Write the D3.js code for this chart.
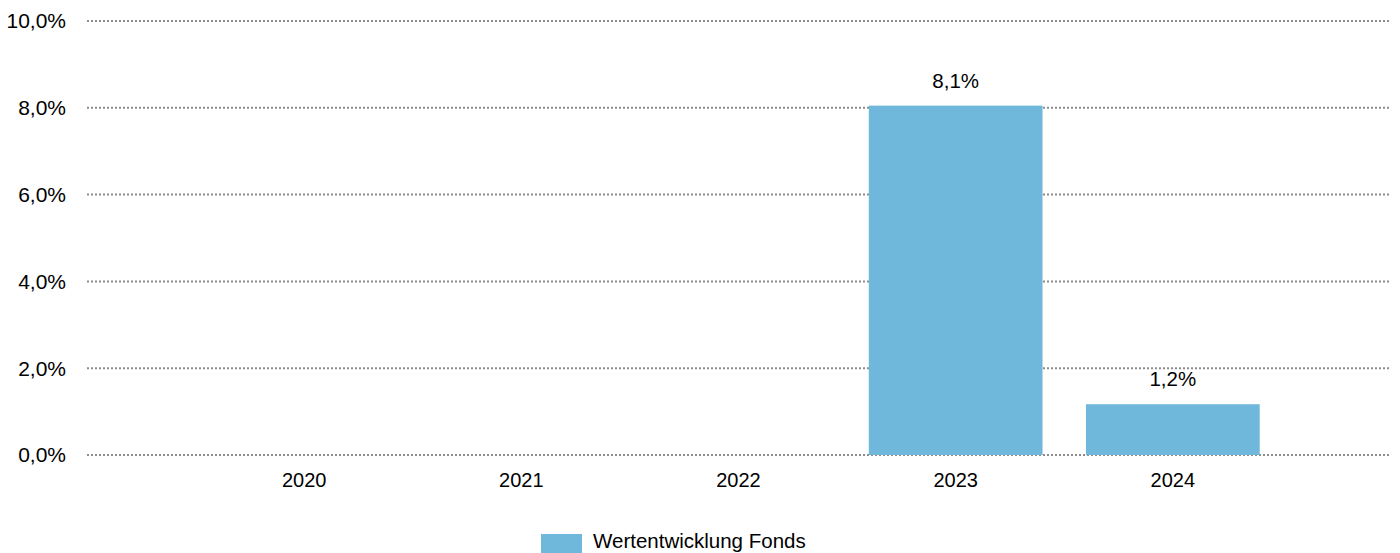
<!DOCTYPE html>
<html>
<head>
<meta charset="utf-8">
<script src="https://cdn.jsdelivr.net/npm/d3@7"></script>
<style>
  body { margin: 0; background: #fff; }
  text { font-family: "Liberation Sans", Arial, sans-serif; fill: #000; }
</style>
</head>
<body>
<div id="chart"></div>
<script>
var years = ["2020", "2021", "2022", "2023", "2024"];
var fondsValues = [null, null, null, 8.05, 1.17];
var yTicks = [0, 2, 4, 6, 8, 10];
var seriesName = "Wertentwicklung Fonds";

var width = 1400, height = 553;
var plotLeft = 87, plotRight = 1390, plotTop = 21, plotBottom = 455;
var barColor = "#70b8db";

var svg = d3.select("#chart").append("svg")
    .attr("width", width)
    .attr("height", height);

var x = d3.scalePoint()
    .domain(years)
    .range([plotLeft, plotRight])
    .padding(1);

var y = d3.scaleLinear()
    .domain([0, 10])
    .range([plotBottom, plotTop]);

var fmt = function (v) { return d3.format(".1f")(v).replace(".", ",") + "%"; };

// dotted grid lines
svg.append("g").selectAll("line")
    .data(yTicks)
    .enter()
    .append("line")
    .attr("x1", plotLeft)
    .attr("x2", plotRight)
    .attr("y1", function (d) { return y(d); })
    .attr("y2", function (d) { return y(d); })
    .attr("stroke", "#8c8c8c")
    .attr("stroke-width", 2)
    .attr("stroke-dasharray", "2,2");

// y labels
svg.append("g").selectAll("text")
    .data(yTicks)
    .enter()
    .append("text")
    .attr("x", 66)
    .attr("y", function (d) { return y(d); })
    .attr("dy", "0.35em")
    .attr("text-anchor", "end")
    .style("font-size", "21px")
    .text(fmt);

var barW = x.step() * 0.8;
var data = years.map(function (yr, i) { return { year: yr, value: fondsValues[i] }; })
    .filter(function (d) { return d.value !== null; });

svg.append("g").selectAll("rect")
    .data(data)
    .enter()
    .append("rect")
    .attr("x", function (d) { return x(d.year) - barW / 2; })
    .attr("width", barW)
    .attr("y", function (d) { return y(d.value); })
    .attr("height", function (d) { return y(0) - y(d.value); })
    .attr("fill", barColor);

// value labels
svg.append("g").selectAll("text")
    .data(data)
    .enter()
    .append("text")
    .attr("x", function (d) { return x(d.year); })
    .attr("y", function (d) { return y(d.value) - 18; })
    .attr("text-anchor", "middle")
    .style("font-size", "20.5px")
    .text(function (d) { return fmt(d.value); });

// x labels
svg.append("g").selectAll("text")
    .data(years)
    .enter()
    .append("text")
    .attr("x", function (d) { return x(d); })
    .attr("y", 487)
    .attr("text-anchor", "middle")
    .style("font-size", "20px")
    .text(function (d) { return d; });

// legend
var legend = svg.append("g").attr("transform", "translate(541,534)");
legend.append("rect")
    .attr("width", 41)
    .attr("height", 19)
    .attr("fill", barColor);
legend.append("text")
    .attr("x", 52)
    .attr("y", 14)
    .style("font-size", "20.5px")
    .text(seriesName);
</script>
</body>
</html>
